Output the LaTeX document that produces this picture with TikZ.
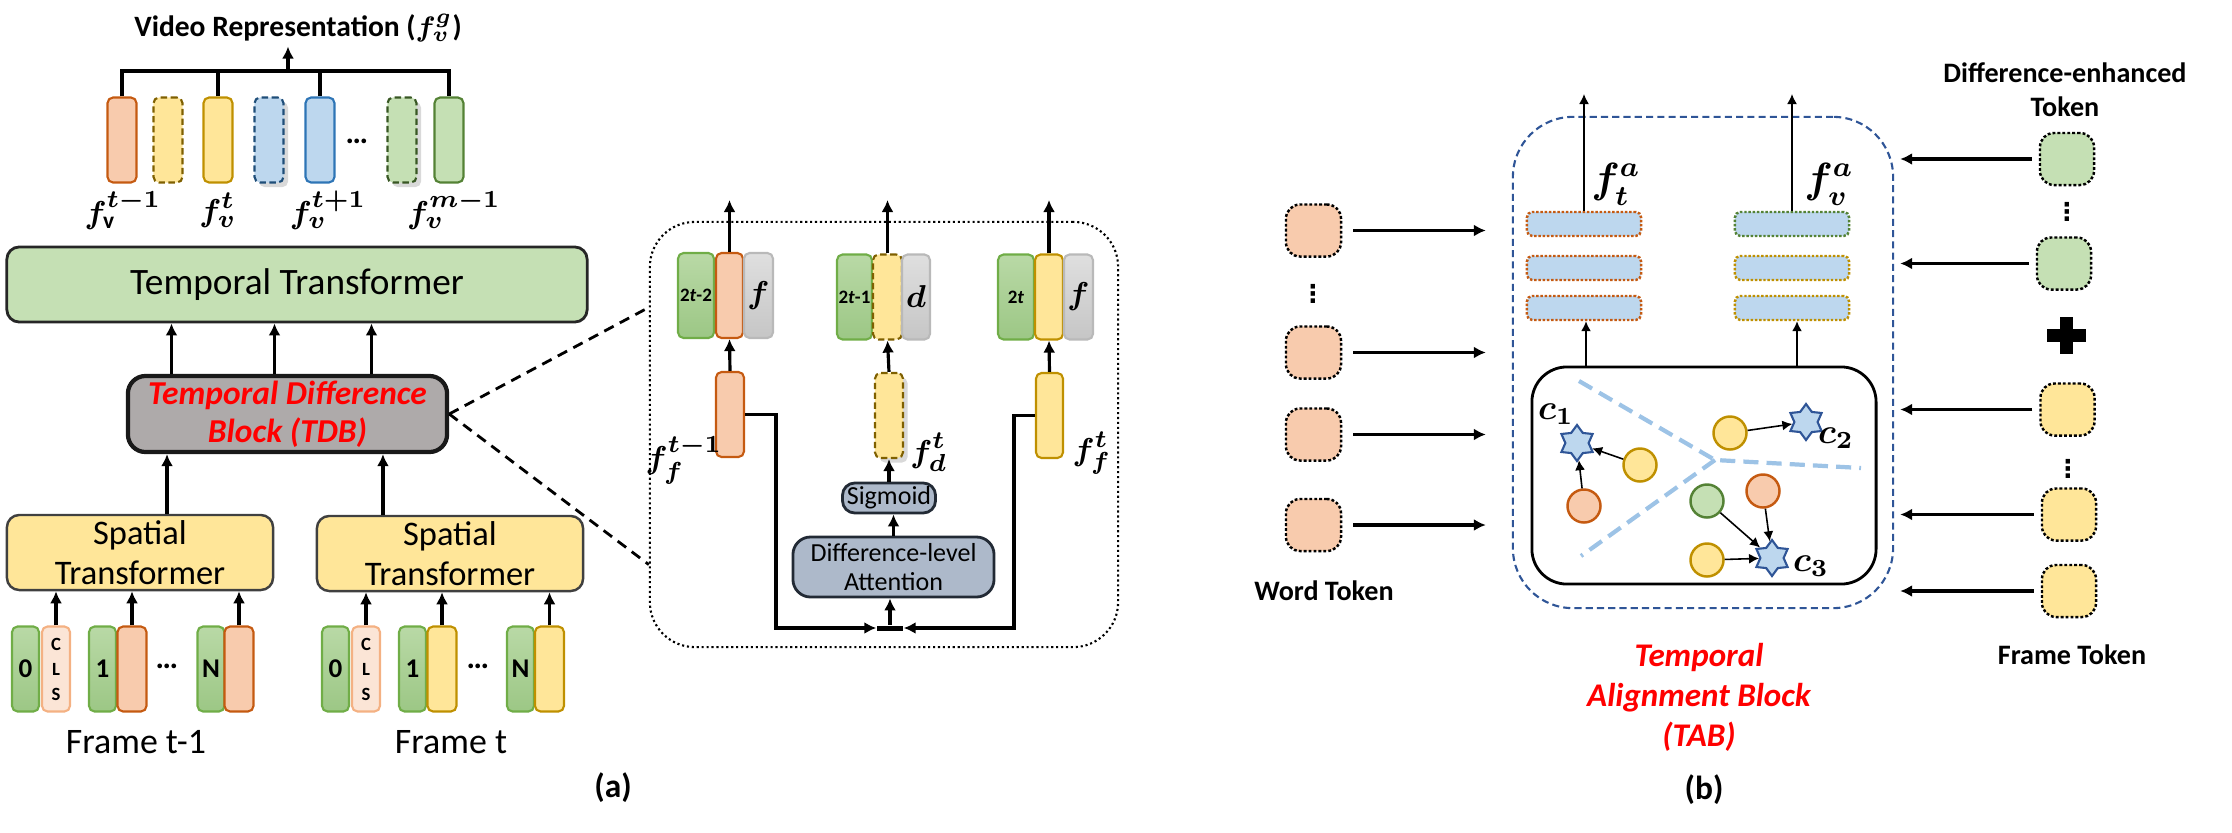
\documentclass[tikz,border=0pt]{standalone}
\usepackage{fontspec}
\setmainfont{Carlito}
\newfontfamily\symfont{DejaVu Sans}
\usepackage{amsmath}
\usepackage{bm}
\usepackage{xcolor}
\usepackage{tikz}
\usetikzlibrary{positioning,calc,shapes.geometric,arrows.meta,shadows}
\definecolor{tokOrange}{HTML}{F8CBAD}
\definecolor{tokOrangeD}{HTML}{C55A11}
\definecolor{tokYellow}{HTML}{FFE699}
\definecolor{tokYellowD}{HTML}{BF9000}
\definecolor{tokYellowDD}{HTML}{7F6000}
\definecolor{tokBlue}{HTML}{BDD7EE}
\definecolor{tokBlueD}{HTML}{2E75B6}
\definecolor{tokBlueDD}{HTML}{1F4E79}
\definecolor{tokGreen}{HTML}{C5E0B4}
\definecolor{tokGreenD}{HTML}{548235}
\definecolor{tokGreenDD}{HTML}{385723}
\definecolor{posTop}{HTML}{B9D9A6}
\definecolor{posBot}{HTML}{9CC785}
\definecolor{posD}{HTML}{70AD47}
\definecolor{clsFill}{HTML}{FBE5D6}
\definecolor{clsD}{HTML}{F4B183}
\definecolor{tdbGray}{HTML}{AEAAAA}
\definecolor{attnFill}{HTML}{ADB9CA}
\definecolor{attnD}{HTML}{222A35}
\definecolor{tabBlue}{HTML}{2F5597}
\definecolor{splitBlue}{HTML}{9DC3E6}
\definecolor{capRed}{HTML}{FF0000}

\begin{document}
\begin{tikzpicture}[x=0.01cm, y=-0.01cm,
        % Style cho token
        tok/.style={rounded corners=1.6pt, line width=0.6pt, minimum width=0.29cm, minimum height=0.85cm, inner sep=0pt},
        orangetok/.style={tok, fill=tokOrange, draw=tokOrangeD},
        yellowtok/.style={tok, fill=tokYellow, draw=tokYellowD},
        bluetok/.style={tok, fill=tokBlue, draw=tokBlueD},
        greentok/.style={tok, fill=tokGreen, draw=tokGreenD},
        dashtok/.style={dash pattern=on 1.8pt off 1pt},
        shadowtok/.style={dashtok, drop shadow={shadow xshift=1.3pt, shadow yshift=-1.3pt, opacity=0.3}},
        postok/.style={tok, minimum width=0.27cm, top color=posTop, bottom color=posBot, draw=posD, font=\bfseries\fontsize{7.7}{9}\selectfont},
        clstok/.style={tok, minimum width=0.28cm, fill=clsFill, draw=clsD, align=center, font=\bfseries\fontsize{5.3}{7.1}\selectfont},
        graytok/.style={tok, top color=gray!25, bottom color=gray!45, draw=gray!55, font=\fontsize{9}{10}\selectfont},
        % Style cho khoi
        block/.style={rounded corners=3.5pt, align=center, inner sep=0pt},
        ttbox/.style={block, fill=tokGreen, draw=black!85, line width=0.8pt, minimum width=5.8cm, minimum height=0.75cm, font=\fontsize{10.6}{12}\selectfont},
        stbox/.style={block, fill=tokYellow, draw=black!75, line width=0.7pt, minimum width=2.66cm, minimum height=0.75cm, font=\fontsize{9.8}{11.3}\selectfont},
        tdbbox/.style={block, rounded corners=5pt, fill=tdbGray, draw=black!90, line width=1.2pt, minimum width=3.19cm, minimum height=0.76cm, text=capRed, font=\bfseries\itshape\fontsize{9.5}{10.8}\selectfont},
        attnbox/.style={block, fill=attnFill, draw=attnD, line width=0.8pt, font=\fontsize{7.4}{8.4}\selectfont},
        % Style cho phan (b)
        bartok/.style={rounded corners=1.5pt, fill=tokBlue, line width=0.7pt, dash pattern=on 0.7pt off 0.5pt, minimum width=1.14cm, minimum height=0.24cm, inner sep=0pt},
        sqtok/.style={rounded corners=4pt, line width=0.7pt, draw=black, dash pattern=on 0.8pt off 0.6pt, minimum width=0.55cm, minimum height=0.52cm, inner sep=0pt},
        dot/.style={circle, line width=0.7pt, minimum size=0.33cm, inner sep=0pt},
        centre/.style={star, star points=6, star point ratio=1.55, fill=tokBlue, draw=tabBlue, line width=0.6pt, minimum size=0.36cm, inner sep=0pt},
        vdot/.style={inner sep=0pt, font=\symfont\bfseries\fontsize{7}{8}\selectfont},
        % Style cho nhan
        lbl/.style={font=\bfseries\fontsize{8}{9.7}\selectfont, align=center},
        mlbl/.style={inner sep=0pt, font=\boldmath\fontsize{9.5}{10}\selectfont},
        biglbl/.style={inner sep=0pt, font=\boldmath\fontsize{12}{13}\selectfont},
        framelbl/.style={font=\fontsize{10.2}{11}\selectfont},
        redcap/.style={text=capRed, font=\bfseries\itshape\fontsize{9.4}{11.4}\selectfont, align=center},
        % Style cho canh noi
        arr/.style={-{Latex[length=1.2mm,width=1.2mm]}, line width=0.9pt},
        lnk/.style={line width=0.9pt},
        thinarr/.style={-{Latex[length=1mm,width=1mm]}, line width=0.45pt},
        bigarr/.style={-{Latex[length=1.2mm,width=1.2mm]}, line width=1.1pt},
        zoomdash/.style={line width=0.8pt, dash pattern=on 3pt off 2pt},
        splitline/.style={splitBlue, line width=1.2pt, dash pattern=on 4.3pt off 2.3pt}
    ]
        \useasboundingbox (0,0) rectangle (2232,833);

        % --- 1. VIDEO REPRESENTATION ---
        \node[lbl, inner sep=1pt, font=\bfseries\fontsize{8.4}{9.7}\selectfont] (vrep) at (298,28) {Video Representation ($\bm{f_v^g}$)};

        \node[orangetok] (vt1) at (122,140) {};
        \node[yellowtok, draw=tokYellowDD, dashtok] (vt2) at (168,140) {};
        \node[yellowtok] (vt3) at (218,140) {};
        \node[bluetok, draw=tokBlueDD, shadowtok] (vt4) at (269,140) {};
        \node[bluetok] (vt5) at (320,140) {};
        \node[font=\bfseries\fontsize{9}{10}\selectfont] (vdots) at (357,141) {…};
        \node[greentok, draw=tokGreenDD, shadowtok] (vt7) at (402,140) {};
        \node[greentok] (vt8) at (449,140) {};

        \node[mlbl] (lv1) at (123,210) {$f_{\mathrm{v}}^{t-1}$};
        \node[mlbl] (lv3) at (218,210) {$f_v^{t}$};
        \node[mlbl] (lv5) at (328,210) {$f_v^{t+1}$};
        \node[mlbl] (lv8) at (454,210) {$f_v^{m-1}$};

        % thanh gop
        \coordinate (br) at (288,71);
        \draw[lnk] (vt1.north) |- (vt8.north |- br) -- (vt8.north);
        \draw[lnk] (vt3.north) -- (vt3.north |- br);
        \draw[lnk] (vt5.north) -- (vt5.north |- br);
        \draw[arr] (br) -- (br |- vrep.south);

        % --- 2. TRANSFORMER ---
        \node[ttbox] (tt) at (297,284.5) {Temporal Transformer};
        \node[tdbbox] (tdb) at (287.5,414) {Temporal Difference\\Block (TDB)};
        \node[stbox] (st1) at (140,552.5) {Spatial\\Transformer};
        \node[stbox] (st2) at (450,553.5) {Spatial\\Transformer};

        \foreach \dx in {-116,-13,84}
            \draw[arr] ([xshift=\dx*0.01cm]tdb.north) -- ([xshift=\dx*0.01cm]tdb.north |- tt.south);
        \draw[arr] ([xshift=0.27cm]st1.north) -- ([xshift=0.27cm]st1.north |- tdb.south);
        \draw[arr] ([xshift=-0.67cm]st2.north) -- ([xshift=-0.67cm]st2.north |- tdb.south);

        % --- 3. FRAME TOKEN ---
        % Frame t-1
        \node[postok] (p0a) at (25.5,669) {0};
        \node[clstok] (cls1) at (56,669) {C\\L\\S};
        \node[postok] (p1a) at (102.5,669) {1};
        \node[orangetok] (o1a) at (132,669) {};
        \node[font=\bfseries\fontsize{9}{10}\selectfont] (dta) at (167,666) {…};
        \node[postok] (pNa) at (211,669) {N};
        \node[orangetok] (oNa) at (239,669) {};
        % Frame t
        \node[postok] (p0b) at (335.5,669) {0};
        \node[clstok] (cls2) at (366,669) {C\\L\\S};
        \node[postok] (p1b) at (412.5,669) {1};
        \node[yellowtok] (y1b) at (442,669) {};
        \node[font=\bfseries\fontsize{9}{10}\selectfont] (dtb) at (478,666) {…};
        \node[postok] (pNb) at (520.5,669) {N};
        \node[yellowtok] (yNb) at (549.5,669) {};

        \foreach \t in {cls1,o1a,oNa}
            \draw[arr] (\t.north) -- (\t.north |- st1.south);
        \foreach \t in {cls2,y1b,yNb}
            \draw[arr] (\t.north) -- (\t.north |- st2.south);

        \node[framelbl] (fa) at (136,742) {Frame t-1};
        \node[framelbl] (fb) at (451,742) {Frame t};
        \node[font=\bfseries\fontsize{9.5}{11}\selectfont] (capa) at (613,788) {(a)};

        % --- 4. CHI TIET TDB ---
        \node[draw, rounded corners=0.45cm, line width=0.6pt, dash pattern=on 0.6pt off 0.8pt, minimum width=4.68cm, minimum height=4.25cm] (tdbd) at (884,434.5) {};
        \draw[zoomdash] (tdb.east) -- ([yshift=1.27cm]tdbd.west);
        \draw[zoomdash] (tdb.east) -- ([yshift=-1.3cm]tdbd.west);

        \coordinate (topY) at (0,200);
        % nhom 1
        \node[postok, minimum width=0.36cm, font=\bfseries\fontsize{5.4}{6}\selectfont] (g1) at (696,295.5) {2\textit{t}-2};
        \node[orangetok, minimum width=0.27cm] (o1) at (729.5,295.5) {};
        \node[graytok] (gr1) at (758.5,295.5) {$\bm{f}$};
        \node[orangetok, minimum width=0.28cm] (o1l) at (730,414.5) {};
        \node[mlbl] (lf1) at (684,460) {$f_f^{t-1}$};
        % nhom 2
        \node[postok, minimum width=0.35cm, font=\bfseries\fontsize{5.4}{6}\selectfont] (g2) at (854.5,297) {2\textit{t}-1};
        \node[yellowtok, draw=tokYellowDD, dashtok] (y2) at (887.5,297) {};
        \node[graytok, minimum width=0.28cm] (gr2) at (916,297) {$\bm{d}$};
        \node[yellowtok, draw=tokYellowDD, shadowtok, minimum width=0.28cm] (y2l) at (889,415.5) {};
        \node[mlbl] (lf2) at (929,452) {$f_d^{t}$};
        \node[attnbox, minimum width=0.93cm, minimum height=0.3cm] (sig) at (889,498) {Sigmoid};
        \node[attnbox, rounded corners=5pt, minimum width=2.01cm, minimum height=0.6cm] (dla) at (893.5,567) {Difference-level\\Attention};
        \node[fill=black, minimum width=0.26cm, minimum height=0.05cm, inner sep=0pt] (bar) at (890,628) {};
        % nhom 3
        \node[postok, minimum width=0.36cm, font=\bfseries\fontsize{5.4}{6}\selectfont] (g3) at (1016,297) {2\textit{t}};
        \node[yellowtok, minimum width=0.28cm] (y3) at (1049,297) {};
        \node[graytok] (gr3) at (1078.5,297) {$\bm{f}$};
        \node[yellowtok, minimum width=0.27cm] (y3l) at (1049.5,415.5) {};
        \node[mlbl] (lf3) at (1092,453) {$f_f^{t}$};

        \foreach \t in {o1,y2,y3}
            \draw[arr] (\t.north) -- (\t.north |- topY);
        \draw[arr] (o1l.north) -- (o1.south);
        \draw[arr] (y2l.north) -- (y2.south);
        \draw[arr] (y3l.north) -- (y3.south);
        \draw[arr] (sig.north) -- (sig.north |- y2l.south);
        \draw[arr] (dla.north) -- (dla.north |- sig.south);
        \draw[arr] (bar.north) -- (bar.north |- dla.south);
        \draw[arr] (o1l.east) -- ++(31,0) |- (bar.west);
        \draw[arr] (y3l.west) -- ++(-21,0) |- (bar.east);

        % --- 5. TEMPORAL ALIGNMENT BLOCK ---
        \node[draw=tabBlue, line width=0.6pt, dash pattern=on 2pt off 1.2pt, rounded corners=0.6cm, minimum width=3.8cm, minimum height=4.91cm] (tab) at (1703,362.5) {};
        \node[draw=black, line width=0.8pt, rounded corners=0.35cm, minimum width=3.44cm, minimum height=2.17cm] (inner) at (1704,475.5) {};

        % dai token
        \node[bartok, draw=tokOrangeD] (ta1) at (1584,224) {};
        \node[bartok, draw=tokOrangeD] (ta2) at (1584,268) {};
        \node[bartok, draw=tokOrangeD] (ta3) at (1584,308) {};
        \node[bartok, draw=tokGreenD] (va1) at (1792,224) {};
        \node[bartok, draw=tokYellowD] (va2) at (1792,268) {};
        \node[bartok, draw=tokYellowD] (va3) at (1792,308) {};
        \node[biglbl] (lta) at (1616,184) {$f_t^a$};
        \node[biglbl] (lva) at (1829,184) {$f_v^a$};

        \coordinate (outY) at (0,94);
        \draw[thinarr] (ta1.north) -- (ta1.north |- outY);
        \draw[thinarr] (va1.north) -- (va1.north |- outY);
        \draw[thinarr] ([xshift=0.02cm]ta3.south |- inner.north) -- ([xshift=0.02cm]ta3.south);
        \draw[thinarr] ([xshift=0.05cm]va3.south |- inner.north) -- ([xshift=0.05cm]va3.south);

        % phan vung
        \coordinate (jn) at (1715,460);
        \coordinate (sp1) at (1579,381);
        \coordinate (sp2) at (1861,468);
        \coordinate (sp3) at (1581,556);
        \draw[splitline] (sp1) -- (jn) -- (sp2);
        \draw[splitline] (jn) -- (sp3);

        % tam cum va diem
        \node[centre] (c1s) at (1577,443) {};
        \node[centre] (c2s) at (1806,422) {};
        \node[centre] (c3s) at (1772,558) {};
        \node[font=\boldmath\fontsize{10}{11}\selectfont] (lc1) at (1556,414) {$c_1$};
        \node[font=\boldmath\fontsize{10}{11}\selectfont] (lc2) at (1836,438) {$c_2$};
        \node[font=\boldmath\fontsize{10}{11}\selectfont] (lc3) at (1811,566) {$c_3$};

        \node[dot, fill=tokYellow, draw=tokYellowD] (cy1) at (1640,465) {};
        \node[dot, fill=tokOrange, draw=tokOrangeD] (co1) at (1584,506) {};
        \node[dot, fill=tokYellow, draw=tokYellowD] (cy2) at (1730,433) {};
        \node[dot, fill=tokGreen, draw=tokGreenD] (cg) at (1707,501) {};
        \node[dot, fill=tokOrange, draw=tokOrangeD] (co2) at (1763,491) {};
        \node[dot, fill=tokYellow, draw=tokYellowD] (cy3) at (1707,560) {};

        \draw[thinarr] (cy1) -- (c1s);
        \draw[thinarr] (co1) -- (c1s);
        \draw[thinarr] (cy2) -- (c2s);
        \draw[thinarr] (cg) -- (c3s);
        \draw[thinarr] (co2) -- (c3s);
        \draw[thinarr] (cy3) -- (c3s);

        % --- 6. WORD TOKEN ---
        \node[sqtok, fill=tokOrange] (w1) at (1313.5,230.5) {};
        \node[vdot] (wdots) at (1313,294) {⋮};
        \node[sqtok, fill=tokOrange] (w2) at (1313.5,352.5) {};
        \node[sqtok, fill=tokOrange] (w3) at (1313.5,434.5) {};
        \node[sqtok, fill=tokOrange] (w4) at (1313.5,525) {};
        \node[lbl] (wlbl) at (1324,591) {Word Token};
        \foreach \t in {w1,w2,w3,w4}
            \draw[bigarr] ([xshift=0.11cm]\t.east) -- ([xshift=-0.26cm]\t.east -| tab.west);

        % --- 7. FRAME / DIFFERENCE TOKEN ---
        \node[lbl] (elbl) at (2065,90) {Difference-enhanced\\Token};
        \node[sqtok, fill=tokGreen, minimum width=0.54cm] (e1) at (2067,159) {};
        \node[vdot] (edots) at (2067,212) {⋮};
        \node[sqtok, fill=tokGreen, minimum width=0.54cm] (e2) at (2064,263.5) {};
        \coordinate (plus) at (2066,335);
        \fill (plus) +(-19.5,-6.5) rectangle +(19.5,6.5);
        \fill (plus) +(-6.5,-18.5) rectangle +(6.5,18.5);
        \node[sqtok, fill=tokYellow, minimum width=0.54cm] (fr1) at (2067.5,409.5) {};
        \node[vdot] (fdots) at (2068,469) {⋮};
        \node[sqtok, fill=tokYellow, minimum width=0.54cm] (fr2) at (2069,514.5) {};
        \node[sqtok, fill=tokYellow, minimum width=0.54cm] (fr3) at (2069,591) {};
        \node[lbl] (flbl) at (2072,655) {Frame Token};
        \foreach \t in {e1,e2,fr1,fr2,fr3}
            \draw[bigarr] ([xshift=-0.07cm]\t.west) -- ([xshift=0.06cm]\t.west -| tab.east);

        % --- 8. CHU THICH ---
        \node[redcap] (tabcap) at (1699,697) {Temporal\\Alignment Block\\(TAB)};
        \node[font=\bfseries\fontsize{9.5}{11}\selectfont] (capb) at (1704,790) {(b)};
    \end{tikzpicture}
\end{document}
